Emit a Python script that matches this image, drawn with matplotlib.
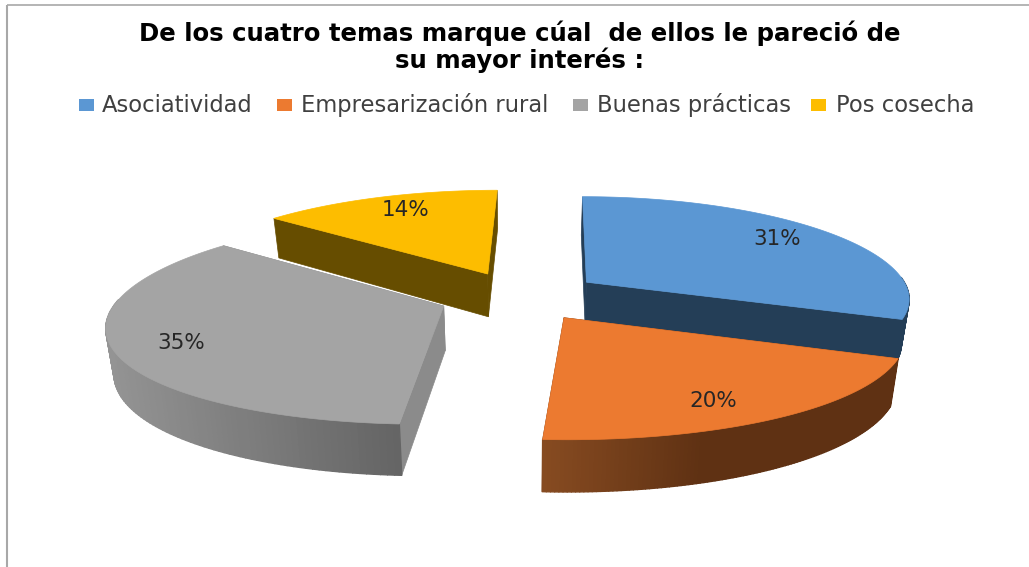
import numpy as np
import matplotlib
matplotlib.use('Agg')
import matplotlib.pyplot as plt
from matplotlib.collections import PolyCollection
from matplotlib.colors import to_rgb
from matplotlib.patches import Polygon, Rectangle

title_text = 'De los cuatro temas marque cúal  de ellos le pareció de\nsu mayor interés :'
categories = ['Asociatividad', 'Empresarización rural', 'Buenas prácticas', 'Pos cosecha']
values = [31, 20, 35, 14]

top_colors = ['#5b97d3', '#ec7a30', '#a4a4a4', '#fdbd00']
wall_colors = ['#243e57', '#5f3113', '#8b8b8b', '#664d00']
rim_left = ['#243e57', '#874b21', '#949494', '#664d00']
rim_right = ['#243e57', '#5f3113', '#646464', '#664d00']
rim_knee = [1.0, 0.45, 1.0, 1.0]
label_shift = [2, -4, 2, -2]  # degrees, nudges the % labels along the arc

# pie geometry in pixels
cx, cy = 520, 296
rx, ry = 325, 100
persp_x = 0.16
persp_y = 0.13
skew = 5
depth = 44
shrink = 0.98
explode = 0.25
label_r = 0.81


def project(X, Y, lower=False):
    x = rx*X/(1 + persp_x*Y) + skew*Y
    d = 1 + persp_y*Y
    y = -ry*Y/d
    if lower:
        return cx + x*shrink, cy + y + depth/d
    return cx + x, cy + y


def quad(p0, p1, p2, p3):
    return np.array([p0, p1, p2, p3])


fig = plt.figure(figsize=(10.29, 5.67), dpi=100)
ax = fig.add_axes([0, 0, 1, 1])
ax.set_xlim(0, 1029)
ax.set_ylim(567, 0)
ax.axis('off')

# chart frame, only left and top survive in the screenshot
ax.plot([7, 7], [567, 4.5], color='#a8a8a8', lw=1.5, solid_capstyle='butt')
ax.plot([7, 1029], [4.5, 4.5], color='#a8a8a8', lw=1.2, solid_capstyle='butt')

fractions = np.array(values)/sum(values)
ends = 90 - 360*np.cumsum(fractions)
starts = np.r_[90, ends[:-1]]

# back to front
for i in [3, 0, 2, 1]:
    mid = np.radians((starts[i] + ends[i])/2)
    X0 = explode*np.cos(mid)
    Y0 = explode*np.sin(mid)
    ang = np.radians(np.linspace(starts[i], ends[i], 120))
    X = X0 + np.cos(ang)
    Y = Y0 + np.sin(ang)

    up = np.column_stack(project(X, Y))
    lo = np.column_stack(project(X, Y, lower=True))
    c_up = project(X0, Y0)
    c_lo = project(X0, Y0, lower=True)

    for j in [0, -1]:
        ax.add_patch(Polygon(quad(c_up, up[j], lo[j], c_lo), closed=True,
                             fc=wall_colors[i], ec=wall_colors[i], lw=0.5))

    # outer rim, shaded left to right, back part is hidden anyway
    front = [k for k in range(len(up)-1) if np.sin(ang[k]) < 0.05]
    polys = [quad(up[k], up[k+1], lo[k+1], lo[k]) for k in front]
    xm = (up[:-1, 0] + up[1:, 0])/2
    t = (xm - up[:, 0].min())/(up[:, 0].max() - up[:, 0].min())
    t = np.clip(t/rim_knee[i], 0, 1)[:, None]
    cols = (1-t)*np.array(to_rgb(rim_left[i])) + t*np.array(to_rgb(rim_right[i]))
    ax.add_collection(PolyCollection(polys, facecolors=cols[front], edgecolors=cols[front], linewidths=1.0))

    ax.add_patch(Polygon(np.vstack([c_up, up]), closed=True,
                         fc=top_colors[i], ec=top_colors[i], lw=0.5))

    lab = mid + np.radians(label_shift[i])
    lx, ly = project(X0 + label_r*np.cos(lab), Y0 + label_r*np.sin(lab))
    ax.text(lx, ly, f'{values[i]}%', ha='center', va='center',
            fontsize=15.5, color='#262626', zorder=10)

ax.text(520, 47, title_text, ha='center', va='center', fontsize=17.6,
        fontweight='bold', color='black', linespacing=1.08)

swatch_x = [79, 277, 573, 811]
text_x = [102, 301, 597, 836]
for i, name in enumerate(categories):
    ax.add_patch(Rectangle((swatch_x[i], 99), 15, 12, fc=top_colors[i], ec='none'))
    ax.text(text_x[i], 105, name, ha='left', va='center', fontsize=16.3, color='#404040')

fig.savefig('out.png', dpi=100, facecolor='white')
